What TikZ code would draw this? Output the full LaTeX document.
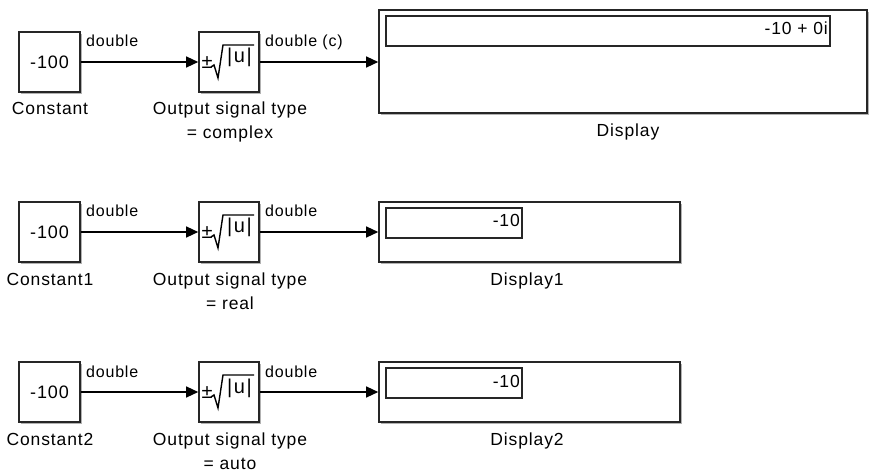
\documentclass[tikz,border=0pt]{standalone}
\usepackage{fontspec}
\setmainfont{Liberation Sans}[LetterSpace=5]
\usetikzlibrary{arrows.meta,shadows}
\begin{document}
\begin{tikzpicture}[x=1pt,y=-1pt,
  blk/.style={draw=black!85, line width=1.6pt, fill=white, rectangle, inner sep=0pt,
    font=\fontsize{18}{20}\selectfont,
    drop shadow={shadow xshift=2pt, shadow yshift=-2pt, opacity=0.3, fill=black}},
  inbox/.style={draw=black!85, line width=1.3pt, fill=white, rectangle, inner sep=0pt},
  lbl/.style={inner sep=0pt, font=\fontsize{17.5}{20}\selectfont, text=black},
  absf/.style={inner sep=0pt, font=\fontsize{20}{22}\selectfont, text=black},
  sig/.style={inner sep=0pt, font=\fontsize{16}{19}\selectfont, text=black, anchor=base west},
  conn/.style={draw=black, line width=1.3pt, -{Triangle[length=12pt,width=11pt]}},
  rad/.style={draw=black, line width=1.4pt, line join=miter}
]
\useasboundingbox (0,0) rectangle (870,473);

% ---------- Row 1 ----------
\node[blk, minimum width=61pt, minimum height=60pt] (c1) at (49.5,62) {-100};
\node[blk, minimum width=60pt, minimum height=60pt] (a1) at (229,62) {};
\node[absf] (pm1) at (207,63) {±};
\draw[rad, shift={(a1.center)}] (-18,5) -- (-15,3) -- (-11,16) -- (-6,-17) -- (25,-17);
\node[absf, anchor=base] (u1) at (239.5,63) {|\kern1.5pt u\kern1.5pt|};
\node[blk, minimum width=488pt, minimum height=103pt] (d1) at (623,61.5) {};
\node[inbox, minimum width=444pt, minimum height=30pt] (v1) at (608,31) {};
\node[lbl, anchor=base east] (vt1) at (828,34.5) {-10 + 0i};
\draw[conn] (c1.east) -- (a1.west);
\draw[conn] (a1.east) -- (a1.east -| d1.west);
\node[sig] (s1a) at (86,47) {double};
\node[sig] (s1b) at (265,47) {double (c)};
\node[lbl, anchor=base] (cl1) at (50,115) {Constant};
\node[lbl, anchor=base] (al1) at (230,115) {Output signal type};
\node[lbl, anchor=base] (al1b) at (230,139) {= complex};
\node[lbl, anchor=base] (dl1) at (628,137) {Display};

% ---------- Row 2 ----------
\node[blk, minimum width=61pt, minimum height=60pt] (c2) at (49.5,232) {-100};
\node[blk, minimum width=60pt, minimum height=60pt] (a2) at (229,232) {};
\node[absf] (pm2) at (207,233) {±};
\draw[rad, shift={(a2.center)}] (-18,5) -- (-15,3) -- (-11,16) -- (-6,-17) -- (25,-17);
\node[absf, anchor=base] (u2) at (239.5,233) {|\kern1.5pt u\kern1.5pt|};
\node[blk, minimum width=301pt, minimum height=60pt] (d2) at (529.5,232) {};
\node[inbox, minimum width=136pt, minimum height=30pt] (v2) at (454,223) {};
\node[lbl, anchor=base east] (vt2) at (520,227) {-10};
\draw[conn] (c2.east) -- (a2.west);
\draw[conn] (a2.east) -- (a2.east -| d2.west);
\node[sig] (s2a) at (86,217) {double};
\node[sig] (s2b) at (265,217) {double};
\node[lbl, anchor=base] (cl2) at (50,285) {Constant1};
\node[lbl, anchor=base] (al2) at (230,285) {Output signal type};
\node[lbl, anchor=base] (al2b) at (230,309) {= real};
\node[lbl, anchor=base] (dl2) at (527,285) {Display1};

% ---------- Row 3 ----------
\node[blk, minimum width=61pt, minimum height=60pt] (c3) at (49.5,392) {-100};
\node[blk, minimum width=60pt, minimum height=60pt] (a3) at (229,392) {};
\node[absf] (pm3) at (207,393) {±};
\draw[rad, shift={(a3.center)}] (-18,5) -- (-15,3) -- (-11,16) -- (-6,-17) -- (25,-17);
\node[absf, anchor=base] (u3) at (239.5,393) {|\kern1.5pt u\kern1.5pt|};
\node[blk, minimum width=301pt, minimum height=60pt] (d3) at (529.5,392) {};
\node[inbox, minimum width=136pt, minimum height=30pt] (v3) at (454,383) {};
\node[lbl, anchor=base east] (vt3) at (520,387) {-10};
\draw[conn] (c3.east) -- (a3.west);
\draw[conn] (a3.east) -- (a3.east -| d3.west);
\node[sig] (s3a) at (86,377) {double};
\node[sig] (s3b) at (265,377) {double};
\node[lbl, anchor=base] (cl3) at (50,445) {Constant2};
\node[lbl, anchor=base] (al3) at (230,445) {Output signal type};
\node[lbl, anchor=base] (al3b) at (230,469) {= auto};
\node[lbl, anchor=base] (dl3) at (527,445) {Display2};
\end{tikzpicture}
\end{document}
